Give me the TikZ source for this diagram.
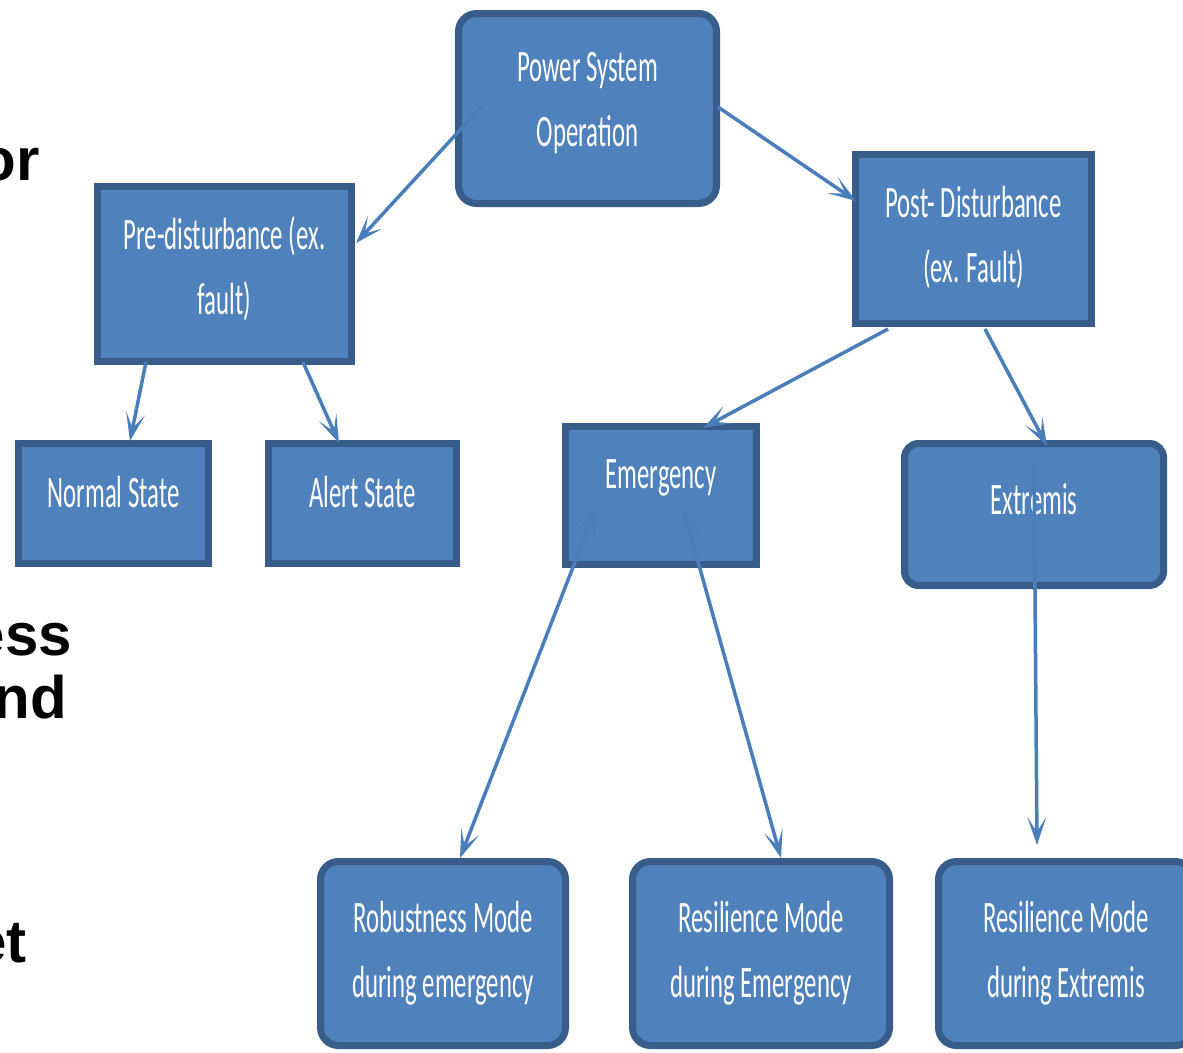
\documentclass[tikz,border=0pt]{standalone}
\usepackage{fontspec}
\usetikzlibrary{arrows.meta}
\newfontfamily\boxfont[FakeStretch=0.55]{Carlito}
\newfontfamily\slidefont{Liberation Sans}
\definecolor{boxfill}{HTML}{4F81BD}
\definecolor{boxedge}{HTML}{385D8A}
\definecolor{linkblue}{HTML}{4A7EBB}
% lift a label inside its box without changing the box size
\newcommand{\lift}[2]{\raisebox{#1}[\height][\depth]{#2}}
\begin{document}
\begin{tikzpicture}[x=1pt,y=-1pt,
  box/.style={draw=boxedge,fill=boxfill,line width=7pt,inner sep=0pt,
    text=white,align=center,font=\boxfont\fontsize{45}{65}\selectfont},
  roundbox/.style={box,rounded corners=18pt},
  link/.style={draw=linkblue,line width=3.5pt,-{Stealth[length=28pt,width=19pt,inset=15pt]}},
  twolink/.style={draw=linkblue,line width=3.5pt,{Stealth[length=28pt,width=19pt,inset=15pt]}-{Stealth[length=28pt,width=19pt,inset=15pt]}},
  word/.style={anchor=base east,inner sep=0pt,font=\slidefont\bfseries\fontsize{60}{60}\selectfont}]
\clip (0,0) rectangle (1183,1052);
\fill[white] (0,0) rectangle (1183,1052);

% words of the slide text running in from the left
\node[word] (w1) at (40,180) {or};
\node[word] (w2) at (72,655) {ess};
\node[word] (w3) at (67,718) {nd};
\node[word] (w4) at (27,962) {et};

% boxes
\node[roundbox,minimum width=258pt,minimum height=190pt] (pso) at (587.5,108.5) {\lift{5pt}{\parbox{250pt}{\centering Power System\\Operation}}};
\node[box,minimum width=254pt,minimum height=175pt] (pre) at (224.5,274) {\lift{5pt}{\parbox{250pt}{\centering Pre-disturbance (ex.\\fault)}}};
\node[box,minimum width=236pt,minimum height=169pt] (post) at (973.5,239) {\lift{2pt}{\parbox{230pt}{\centering Post- Disturbance\\(ex. Fault)}}};
\node[box,minimum width=190pt,minimum height=120pt] (normal) at (113.5,503.5) {\lift{11pt}{Normal State}};
\node[box,minimum width=188pt,minimum height=120pt] (alert) at (362.5,503.5) {\lift{11pt}{Alert State}};
\node[box,minimum width=191pt,minimum height=138pt] (emg) at (661,495.5) {\lift{18pt}{Emergency}};
\node[roundbox,rounded corners=14pt,minimum width=259pt,minimum height=142pt] (ext) at (1034,514.5) {\lift{15pt}{Extremis}};
\node[roundbox,minimum width=245pt,minimum height=184pt] (rob) at (443,953.5) {Robustness Mode\\during emergency};
\node[roundbox,minimum width=257pt,minimum height=184pt] (resE) at (761,953.5) {Resilience Mode\\during Emergency};
\node[roundbox,minimum width=255pt,minimum height=184pt] (resX) at (1066,953.5) {Resilience Mode\\during Extremis};

% connector end points
\coordinate (pso-a) at (483,105);
\coordinate (pre-a) at (356,243);
\coordinate (pso-b) at (718,107);
\coordinate (post-a) at (856,201);
\coordinate (pre-b) at (146,362);
\coordinate (normal-a) at (130,441);
\coordinate (pre-c) at (303,362);
\coordinate (alert-a) at (339,443);
\coordinate (post-b) at (888,329);
\coordinate (emg-a) at (703,428);
\coordinate (post-c) at (985,329);
\coordinate (ext-a) at (1047,446);
\coordinate (emg-b) at (596,508);
\coordinate (rob-a) at (460,858);
\coordinate (emg-c) at (683,508);
\coordinate (resE-a) at (781,858);
\coordinate (ext-b) at (1034,465);
\coordinate (resX-a) at (1037,845);

% connectors
\draw[link] (pso-a) -- (pre-a);
\draw[link] (pso-b) -- (post-a);
\draw[link] (pre-b) -- (normal-a);
\draw[link] (pre-c) -- (alert-a);
\draw[link] (post-b) -- (emg-a);
\draw[link] (post-c) -- (ext-a);
\draw[twolink] (emg-b) -- (rob-a);
\draw[twolink] (emg-c) -- (resE-a);
\draw[link] (ext-b) -- (resX-a);
\end{tikzpicture}
\end{document}
